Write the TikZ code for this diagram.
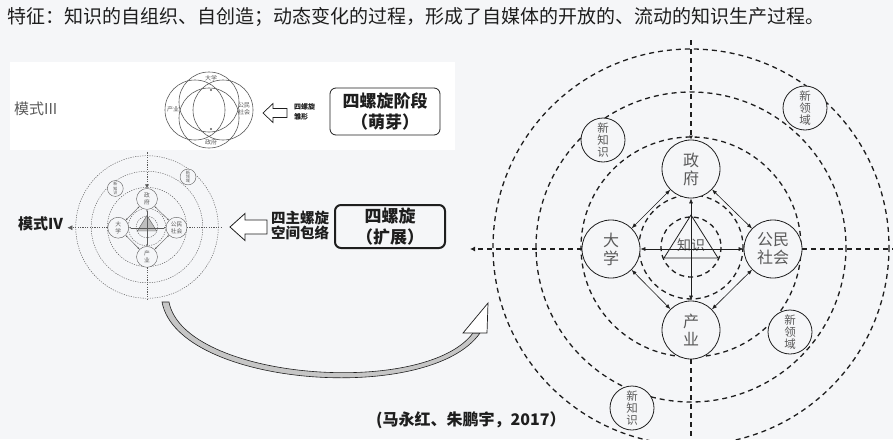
\documentclass[tikz,border=0pt]{standalone}
\usepackage{fontspec}
\setmainfont{Liberation Serif}
\newfontfamily\cjk{Noto Sans CJK SC}
\usetikzlibrary{arrows.meta}
\definecolor{bgc}{RGB}{245,246,248}
\definecolor{ink}{RGB}{30,30,30}
\definecolor{soft}{RGB}{90,90,90}
\newcommand\fsz[2]{\fontsize{#1}{#2}\selectfont}
\newcommand\helixmodel[1]{%
  \draw[ring] (0,0) circle (198);
  \draw[ring] (0,0) circle (155);
  \draw[ring] (0,0) circle (110);
  \draw[ring] (0,0) circle (52);
  \draw[ring] (0,0) circle (30);
  \node[actor] (#1gov) at (0,-78) {政\\府};
  \node[actor] (#1uni) at (-80,2) {大\\学};
  \node[actor] (#1soc) at (82,2) {公民\\社会};
  \node[actor] (#1ind) at (0,83) {产\\业};
  \node[know] (#1know) at (0,-2) {知识};
  \draw[tri] (0,-32) -- (-27,11) -- (27,11) -- cycle;
  \node[newc] (#1nka) at (-88,-107) {新\\知\\识};
  \node[newc] (#1nda) at (114,-139) {新\\领\\域};
  \draw[link] (#1gov) -- (#1uni);
  \draw[link] (#1gov) -- (#1soc);
  \draw[link] (#1uni) -- (#1ind);
  \draw[link] (#1soc) -- (#1ind);
  \draw[link] (#1gov) -- (#1ind);
  \draw[link] (#1uni) -- (#1soc);
  \coordinate (#1axl) at (-221,2);
  \coordinate (#1axr) at (205,2);
  \coordinate (#1axt) at (0,-207);
  \coordinate (#1axb) at (0,200);
  \draw[axis,-{Latex[length=5pt,width=5pt]}] (#1uni) -- (#1axl);
  \draw[axis] (#1soc) -- (#1axr);
  \draw[axis,-{Latex[length=4pt,width=4pt]}] (#1axt) -- (#1gov);
  \draw[axis] (#1ind) -- (#1axb);
}
\newcommand\lowernew[1]{%
  \node[newc] (#1ndb) at (99,85) {新\\领\\域};
  \node[newc] (#1nkb) at (-59,161) {新\\知\\识};
}
\begin{document}
\begin{tikzpicture}[x=1pt,y=-1pt,
  ring/.style={draw=ink,line width=1.3pt,dash pattern=on 5pt off 4pt},
  axis/.style={draw=ink,line width=1.3pt,dash pattern=on 5pt off 4pt},
  link/.style={draw=ink,line width=0.6pt,{Latex[length=5pt,width=4pt]}-{Latex[length=5pt,width=4pt]}},
  tri/.style={draw=ink,line width=0.8pt},
  actor/.style={circle,draw=ink,line width=0.8pt,fill=bgc,minimum size=58,inner sep=0,align=center,
    font=\cjk\fsz{16}{18},text=soft},
  know/.style={inner sep=0,font=\cjk\fsz{14}{16},text=soft},
  newc/.style={circle,draw=ink,line width=0.8pt,fill=bgc,minimum size=44,inner sep=0,align=center,
    font=\cjk\fsz{11.5}{12},text=soft},
  venn/.style={circle,draw=soft,line width=0.6pt,minimum size=60,inner sep=0},
  vlab/.style={inner sep=0,align=center,font=\cjk\fsz{6}{7},text=soft},
  hollow/.style={draw=ink,line width=0.7pt,fill=white,line join=miter},
  tbox/.style={draw=ink,rounded corners=6pt,align=center,inner sep=0,font=\cjk\bfseries\fsz{17}{21},text=ink}
]
\useasboundingbox (0,0) rectangle (893,439);
\fill[bgc] (0,0) rectangle (893,439);
\fill[white] (10,62) rectangle (455,150);

% title
\node[anchor=west,inner sep=0,font=\cjk\fsz{19}{21},text=ink] (title) at (7,17)
  {特征：知识的自组织、自创造；动态变化的过程，形成了自媒体的开放的、流动的知识生产过程。};

% model III
\node[anchor=west,inner sep=0,font=\cjk\fsz{15}{17},text=soft] (m3) at (14,109) {模式III};
\node[venn] (va) at (195,110) {};
\node[venn] (vb) at (223,110) {};
\node[venn] (vc) at (209,102) {};
\node[venn] (vd) at (209,118) {};
\fill[soft] (211,90) circle (1.2) (211,129) circle (1.2);
\node[vlab] (la) at (211,78) {大学};
\node[vlab] (lb) at (173,109) {产业};
\node[vlab] (lc) at (244,109) {公民\\社会};
\node[vlab] (ld) at (211,142) {政府};
\draw[hollow] (263,113) -- (273,103.5) -- (273,108.5) -- (287,108.5) -- (287,117.5) -- (273,117.5) -- (273,122.5) -- cycle;
\node[anchor=west,inner sep=0,align=left,font=\cjk\bfseries\fsz{7}{10},text=ink] (s3) at (294,112) {四螺旋\\雏形};
\node[tbox,line width=0.8pt,minimum width=110,minimum height=47] (b3) at (385,111.5) {四螺旋阶段\\（萌芽）};

% model IV
\node[anchor=west,inner sep=0,font=\cjk\bfseries\fsz{15}{17},text=ink] (m4) at (18,224) {模式IV};
\begin{scope}[shift={(147,227)},scale=0.36,transform shape,
  ring/.style={draw=soft,line width=0.45pt,dash pattern=on 1.2pt off 1.2pt},
  axis/.style={draw=soft,line width=0.45pt,dash pattern=on 1.2pt off 1.2pt},
  link/.style={draw=soft,line width=0.4pt,{Latex[length=2pt,width=1.6pt]}-{Latex[length=2pt,width=1.6pt]}},
  tri/.style={draw=soft,fill=gray!50,line width=0.4pt},
  actor/.style={circle,draw=soft,line width=0.4pt,fill=bgc,minimum size=58,inner sep=0,align=center,
    font=\cjk\fsz{16}{18},text=soft},
  newc/.style={circle,draw=soft,line width=0.4pt,fill=bgc,minimum size=44,inner sep=0,align=center,
    font=\cjk\fsz{11.5}{12},text=soft}]
  \helixmodel{s}
\end{scope}
\draw[hollow,line width=0.8pt] (230,227) -- (245,213.5) -- (245,220) -- (267,220) -- (267,234) -- (245,234) -- (245,240.5) -- cycle;
\node[inner sep=0,align=center,font=\cjk\bfseries\fsz{14.5}{15},text=ink] (s4) at (300,225) {四主螺旋\\空间包络};
\node[tbox,line width=2pt,minimum width=110,minimum height=43] (b4) at (390,226.5) {四螺旋\\（扩展）};

% big model
\begin{scope}[shift={(691,247)}]
  \helixmodel{b}
  \lowernew{b}
\end{scope}

% curved arrow
\draw[draw=ink,line width=0.6pt,fill=gray!45]
  (162,302) .. controls (178,387) and (430,405) .. (480,333)
  -- (473,333) .. controls (425,398) and (184,380) .. (169,302) -- cycle;
\draw[hollow] (488,303) -- (487,333) -- (463,333) -- cycle;

% citation
\node[anchor=west,inner sep=0,font=\cjk\bfseries\fsz{16}{18},text=ink] (cite) at (376,420) {(马永红、朱鹏宇，2017）};
\end{tikzpicture}
\end{document}
